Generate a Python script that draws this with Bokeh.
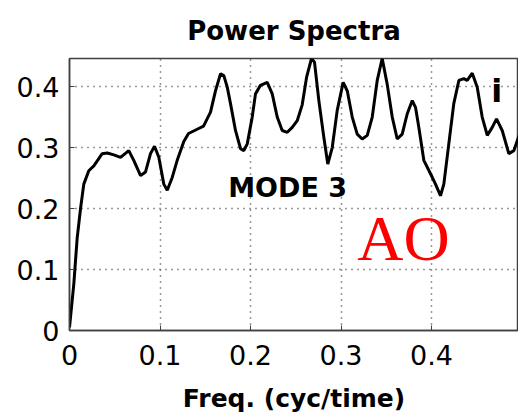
from bokeh.plotting import figure
from bokeh.models import Range1d, Label, FixedTicker
from bokeh.embed import file_html
from bokeh.resources import INLINE

freq = [0.0, 0.0048, 0.0085, 0.0122, 0.0158, 0.0213, 0.0269, 0.0361, 0.0417, 0.0490,
        0.0564, 0.0655, 0.0710, 0.0785, 0.0840, 0.0895, 0.0939, 0.0987, 0.1042, 0.1080,
        0.1135, 0.1190, 0.1263, 0.1315, 0.1411, 0.1481, 0.1558, 0.1613, 0.1669, 0.1705,
        0.1743, 0.1779, 0.1834, 0.1890, 0.1926, 0.1964, 0.2019, 0.2055, 0.2110, 0.2185,
        0.2240, 0.2295, 0.2350, 0.2406, 0.2461, 0.2516, 0.2571, 0.2619, 0.2674, 0.2707,
        0.2755, 0.2810, 0.2854, 0.2903, 0.2958, 0.3024, 0.3069, 0.3124, 0.3179, 0.3234,
        0.3290, 0.3345, 0.3400, 0.3455, 0.3510, 0.3566, 0.3621, 0.3676, 0.3731, 0.3787,
        0.3823, 0.3860, 0.3915, 0.3989, 0.4044, 0.4099, 0.4136, 0.4191, 0.4246, 0.4302,
        0.4357, 0.4394, 0.4450, 0.4505, 0.4560, 0.4616, 0.4671, 0.4718, 0.4781, 0.4854,
        0.4910, 0.4961, 0.5000]
power = [0.005, 0.077, 0.152, 0.200, 0.240, 0.262, 0.270, 0.290, 0.291, 0.288,
         0.284, 0.295, 0.279, 0.254, 0.260, 0.290, 0.302, 0.284, 0.240, 0.230,
         0.251, 0.279, 0.310, 0.323, 0.330, 0.335, 0.358, 0.393, 0.421, 0.418,
         0.399, 0.372, 0.328, 0.298, 0.295, 0.306, 0.350, 0.388, 0.402, 0.407,
         0.388, 0.350, 0.328, 0.325, 0.333, 0.344, 0.370, 0.415, 0.446, 0.440,
         0.377, 0.317, 0.273, 0.300, 0.361, 0.407, 0.393, 0.350, 0.322, 0.314,
         0.320, 0.350, 0.410, 0.446, 0.404, 0.350, 0.314, 0.322, 0.355, 0.377,
         0.366, 0.333, 0.279, 0.257, 0.240, 0.221, 0.240, 0.306, 0.372, 0.410,
         0.413, 0.410, 0.422, 0.399, 0.350, 0.320, 0.333, 0.347, 0.328, 0.290,
         0.295, 0.317, 0.330]

x_ticks = [0, 0.1, 0.2, 0.3, 0.4]
y_ticks = [0, 0.1, 0.2, 0.3, 0.4]
x_tick_labels = {0: "0", 0.1: "0.1", 0.2: "0.2", 0.3: "0.3", 0.4: "0.4"}
y_tick_labels = {0: "0", 0.1: "0.1", 0.2: "0.2", 0.3: "0.3", 0.4: "0.4"}

p = figure(width=518, height=417, output_backend="svg", toolbar_location=None,
           x_range=Range1d(0, 0.4961), y_range=Range1d(0, 0.446),
           min_border_left=69, min_border_right=0, min_border_top=58, min_border_bottom=87)

p.title.text = "Power Spectra"
p.title.align = "center"
p.title.text_font = "DejaVu Sans"
p.title.text_font_style = "bold"
p.title.text_font_size = "26px"
p.title.text_color = "black"
p.title.standoff = 26

p.line(freq, power, line_color="black", line_width=3)

p.xaxis.ticker = FixedTicker(ticks=x_ticks)
p.yaxis.ticker = FixedTicker(ticks=y_ticks)
p.xaxis.major_label_overrides = x_tick_labels
p.yaxis.major_label_overrides = y_tick_labels
for ax in (p.xaxis[0], p.yaxis[0]):
    ax.major_label_text_font = "DejaVu Sans"
    ax.major_label_text_font_size = "27px"
    ax.major_label_text_color = "black"
    ax.major_tick_in = 5
    ax.major_tick_out = 0
    ax.minor_tick_line_color = None
    ax.axis_line_color = "#404040"
    ax.axis_line_width = 1.5
    ax.major_tick_line_color = "#404040"
p.xaxis.axis_label = "Freq. (cyc/time)"
p.xaxis.axis_label_text_font = "DejaVu Sans"
p.xaxis.axis_label_text_font_style = "bold"
p.xaxis.axis_label_text_font_size = "25px"
p.xaxis.axis_label_text_color = "black"
p.xaxis.axis_label_standoff = 16
p.yaxis.major_label_standoff = 10
p.xaxis.major_label_standoff = 14

p.grid.grid_line_color = "#333333"
p.grid.grid_line_dash = "1 5"
p.grid.grid_line_width = 1.5
p.outline_line_color = "#404040"
p.outline_line_width = 1.5

p.add_layout(Label(x=0.241, y=0.234, text="MODE 3", text_font="DejaVu Sans",
                   text_font_style="bold", text_font_size="27px", text_align="center",
                   text_baseline="middle", text_color="black"))
p.add_layout(Label(x=0.369, y=0.151, text="AO", text_font="Liberation Serif",
                   text_font_size="64px", text_align="center",
                   text_baseline="middle", text_color="red"))
p.add_layout(Label(x=0.472, y=0.393, text="i", text_font="DejaVu Sans",
                   text_font_style="bold", text_font_size="32px", text_align="center",
                   text_baseline="middle", text_color="black"))

open("out.html", "w").write(file_html(p, INLINE))
